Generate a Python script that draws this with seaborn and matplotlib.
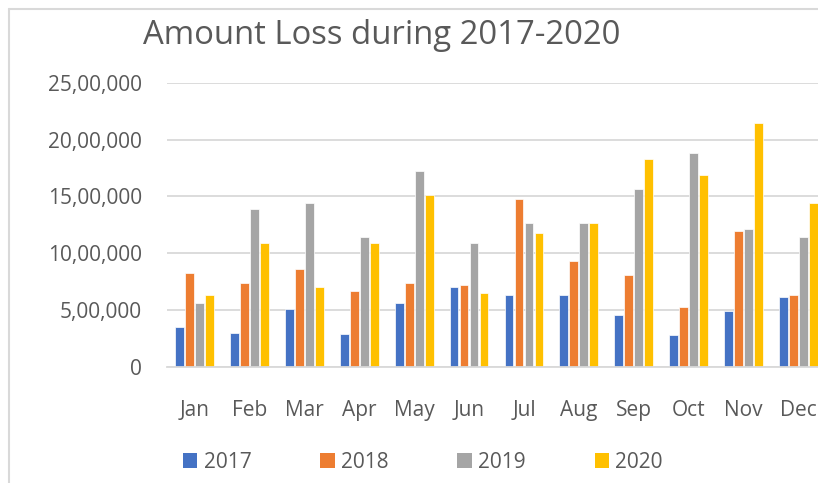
import pandas as pd
import numpy as np
import seaborn as sns
import matplotlib.pyplot as plt
from matplotlib.patches import Patch

months = ["Jan", "Feb", "Mar", "Apr", "May", "Jun", "Jul", "Aug", "Sep", "Oct", "Nov", "Dec"]
years = ["2017", "2018", "2019", "2020"]
loss_2017 = [352000, 299000, 511000, 285000, 563000, 702000, 631000, 631000, 455000, 282000, 490000, 614000]
loss_2018 = [827000, 739000, 863000, 669000, 739000, 719000, 1476000, 930000, 807000, 526000, 1194000, 631000]
loss_2019 = [563000, 1388000, 1441000, 1142000, 1720000, 1089000, 1265000, 1265000, 1564000, 1879000, 1212000, 1142000]
loss_2020 = [631000, 1089000, 704000, 1089000, 1511000, 649000, 1177000, 1265000, 1826000, 1685000, 2143000, 1438000]
yticks = [0, 500000, 1000000, 1500000, 2000000, 2500000]
ytick_labels = ["0", "5,00,000", "10,00,000", "15,00,000", "20,00,000", "25,00,000"]
colors = ["#4472C4", "#ED7D31", "#A5A5A5", "#FFC000"]

df = pd.DataFrame({"month": months * 4,
                   "year": np.repeat(years, 12),
                   "loss": loss_2017 + loss_2018 + loss_2019 + loss_2020})

sns.set_style("white")
plt.rcParams['font.family'] = ['Open Sans', 'DejaVu Sans']
txt = "#595959"

fig = plt.figure(figsize=(8.18, 4.83), dpi=100)
ax = fig.add_axes([167 / 818, 116.3 / 483, 659 / 818, 284 / 483])

sns.barplot(data=df, x="month", y="loss", hue="year", palette=colors, saturation=1,
            width=0.73, gap=0.12, edgecolor="white", linewidth=0.5,
            legend=False, ax=ax)

ax.set_ylim(0, 2500000)
ax.set_xlim(-0.5, 11.5)
ax.set_yticks(yticks)
ax.set_yticklabels(ytick_labels)
ax.yaxis.grid(True, color="#D9D9D9", linewidth=1.3)
ax.set_axisbelow(True)
for s in ["top", "right", "left"]:
    ax.spines[s].set_visible(False)
ax.spines["bottom"].set_color("#D9D9D9")
ax.spines["bottom"].set_linewidth(1.3)
ax.tick_params(axis="y", length=0, pad=18, labelsize=15, labelcolor=txt)
ax.tick_params(axis="x", length=0, pad=24, labelsize=15, labelcolor=txt)
ax.set_xlabel("")
ax.set_ylabel("")

fig.text(143 / 818, 1 - 36 / 483, "Amount Loss during 2017-2020", fontsize=23.7,
         color=txt, va="center", ha="left")

handles = [Patch(facecolor=c, edgecolor="none") for c in colors]
fig.legend(handles, years, loc="center left", bbox_to_anchor=(164 / 818, 1 - 462 / 483),
           ncol=4, frameon=False, fontsize=15, labelcolor=txt,
           handlelength=0.7, handleheight=0.7, handletextpad=0.3, columnspacing=3.3)

# chart border
fig.add_artist(plt.Line2D([9 / 818, 9 / 818], [0, 1 - 9 / 483], color="#D9D9D9", linewidth=1.5))
fig.add_artist(plt.Line2D([9 / 818, 1], [1 - 9 / 483, 1 - 9 / 483], color="#D9D9D9", linewidth=1.5))

fig.savefig("out.png", dpi=100)
